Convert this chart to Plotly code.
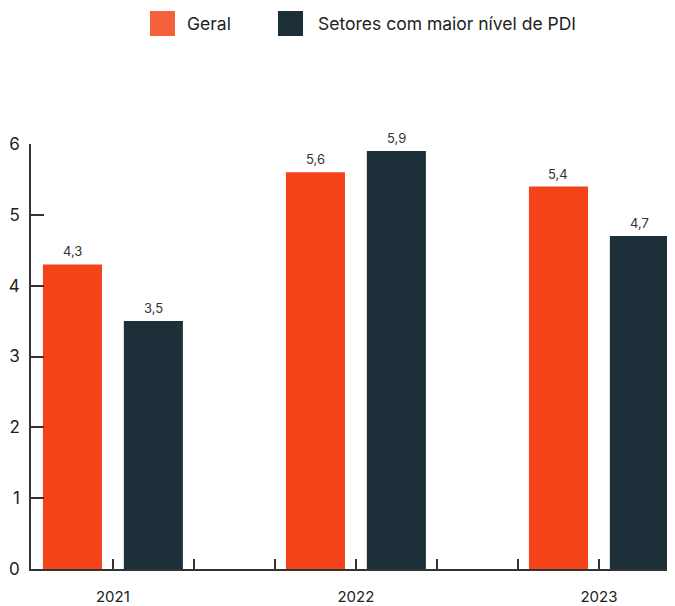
import plotly.graph_objects as go

categories = ["2021", "2022", "2023"]
series_names = ["Geral", "Setores com maior nível de PDI"]
geral = [4.3, 5.6, 5.4]
setores = [3.5, 5.9, 4.7]
y_ticks = [0, 1, 2, 3, 4, 5, 6]

bar_colors = ["#F44219", "#1D2F38"]
legend_colors = ["#F5613B", "#1D2F38"]
font_family = "Inter, 'Noto Sans', sans-serif"

xpos = list(range(len(categories)))
bar_width = 0.243
offsets = [-0.288, 0.045]

fig = go.Figure()
for name, vals, col, off in zip(series_names, [geral, setores], bar_colors, offsets):
    fig.add_trace(go.Bar(
        x=xpos, y=vals, name=name, marker=dict(color=col, line=dict(width=0)),
        width=bar_width, offset=off, showlegend=False,
    ))
    for xi, v in zip(xpos, vals):
        fig.add_annotation(
            x=xi + off + bar_width / 2, y=v, xref="x", yref="y",
            text=f"{v:.1f}".replace(".", ","), showarrow=False,
            yanchor="middle", yshift=13,
            font=dict(size=13, color="#333333", family=font_family),
        )

tickvals = []
ticktext = []
for i, c in enumerate(categories):
    tickvals.append(i)
    ticktext.append(c)
    if i < len(categories) - 1:
        tickvals += [i + 1/3, i + 2/3]
        ticktext += ["", ""]

# page body has an 8px default margin, so the figure is drawn offset by 8px
fig.update_layout(
    width=675, height=606,
    margin=dict(l=23, r=8, t=136, b=45),
    paper_bgcolor="white", plot_bgcolor="white",
    separators=",.",
    font=dict(family=font_family, color="#222222"),
    barmode="overlay",
    showlegend=False,
    xaxis=dict(
        range=[-0.337, 2.313], tickvals=tickvals, ticktext=ticktext,
        ticks="inside", ticklen=10, tickwidth=1.5, tickcolor="#333333",
        showline=True, linecolor="#333333", linewidth=1.5,
        showgrid=False, zeroline=False, automargin=False,
        tickfont=dict(size=15, color="#222222"), ticklabelstandoff=13,
    ),
    yaxis=dict(
        range=[0, 6], tickvals=y_ticks,
        ticks="inside", ticklen=13, tickwidth=1.5, tickcolor="#333333",
        showline=True, linecolor="#333333", linewidth=1.5,
        showgrid=False, zeroline=False, automargin=False,
        tickfont=dict(size=17, color="#222222"), ticklabelstandoff=6,
    ),
)

# Manual legend (large square swatches) placed above the plot
legend_items = [(series_names[0], legend_colors[0], 150, 35), (series_names[1], legend_colors[1], 278, 38)]
for name, col, px, gap in legend_items:
    fig.add_shape(type="rect", xref="paper", yref="paper",
                  x0=(px - 31) / 644, x1=(px + 25 - 31) / 644,
                  y0=(569 - 36) / 425, y1=(569 - 11) / 425,
                  fillcolor=col, line=dict(width=0))
    fig.add_annotation(text=name, xref="paper", yref="paper",
                       x=(px + gap - 31) / 644, y=(569 - 23.5) / 425,
                       xanchor="left", yanchor="middle", showarrow=False,
                       font=dict(size=17.5, color="#222222", family=font_family))

fig.write_html("out.html")
